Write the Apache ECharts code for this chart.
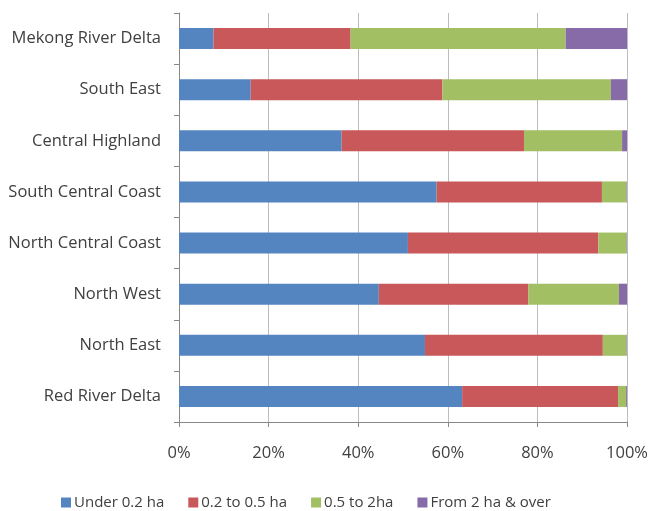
<!DOCTYPE html>
<html>
<head>
<meta charset="utf-8">
<script src="https://cdn.jsdelivr.net/npm/echarts@6/dist/echarts.min.js"></script>
<style>
html,body{margin:0;padding:0;background:#fff;}
#chart{width:651px;height:511px;}
</style>
</head>
<body>
<div id="chart"></div>
<script>
const regions = ['Red River Delta', 'North East', 'North West', 'North Central Coast', 'South Central Coast', 'Central Highland', 'South East', 'Mekong River Delta'];
const seriesNames = ['Under 0.2 ha', '0.2 to 0.5 ha', '0.5 to 2ha', 'From 2 ha & over'];
const under02 = [63.2, 54.9, 44.6, 51.1, 57.5, 36.3, 16.0, 7.7];
const from02to05 = [34.8, 39.7, 33.4, 42.5, 36.9, 40.7, 42.8, 30.6];
const from05to2 = [1.8, 5.3, 20.2, 6.3, 5.5, 21.9, 37.6, 48.0];
const over2 = [0.2, 0.1, 1.8, 0.1, 0.1, 1.1, 3.6, 13.7];
const xTicks = [0, 20, 40, 60, 80, 100];

const colors = ['#5585C1', '#C8585A', '#A2C063', '#876BA8'];
const font = '"Open Sans", sans-serif';
const allData = [under02, from02to05, from05to2, over2];

const chart = echarts.init(document.getElementById('chart'));
chart.setOption({
  animation: false,
  color: colors,
  grid: { left: 179, right: 23, top: 13, bottom: 89 },
  legend: {
    data: seriesNames,
    left: 56, bottom: -4,
    itemWidth: 10, itemHeight: 10, itemGap: 24,
    icon: 'rect',
    textStyle: { fontFamily: font, fontSize: 15, color: '#404040', padding: [0, 0, 0, -2] }
  },
  xAxis: {
    type: 'value', min: xTicks[0], max: xTicks[xTicks.length - 1], interval: 20,
    axisLine: { show: true, lineStyle: { color: '#888', width: 1 } },
    axisTick: { show: true, length: 5, lineStyle: { color: '#888' } },
    axisLabel: { formatter: '{value}%', fontFamily: font, fontSize: 16.5, color: '#404040', margin: 23 },
    splitLine: { show: true, lineStyle: { color: '#BDBDBD', width: 1 } }
  },
  yAxis: {
    type: 'category', data: regions,
    axisLine: { show: true, lineStyle: { color: '#888', width: 1 } },
    axisTick: { show: true, length: 5, alignWithLabel: false, lineStyle: { color: '#888' } },
    axisLabel: { fontFamily: font, fontSize: 16.5, color: '#404040', margin: 18 }
  },
  series: seriesNames.map((n, i) => ({
    name: n, type: 'bar', stack: 'total', barWidth: 21,
    data: allData[i],
    itemStyle: { color: colors[i] }
  }))
});
</script>
</body>
</html>
